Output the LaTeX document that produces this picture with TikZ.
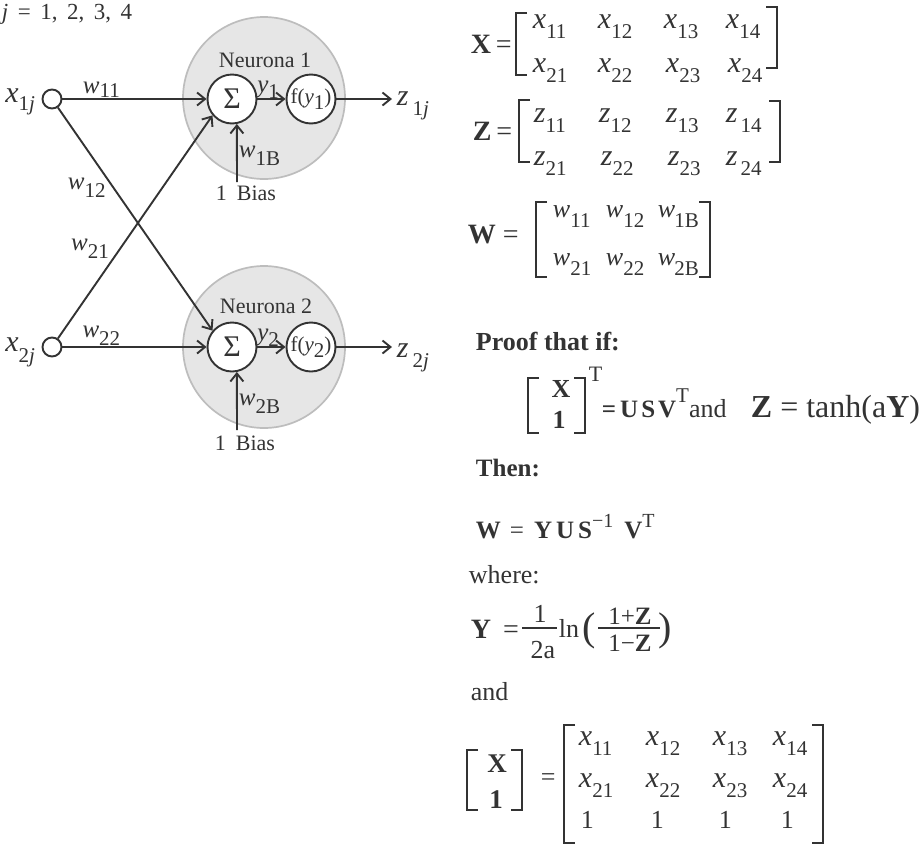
\documentclass[tikz,border=0pt]{standalone}
\usepackage{fontspec}
\setmainfont{Liberation Serif}
\usepackage{xcolor}
\usepackage{tikz}
\usetikzlibrary{arrows.meta}
\usetikzlibrary{positioning}

\definecolor{ink}{HTML}{333333}
\definecolor{cellfill}{HTML}{E6E6E6}
\definecolor{cellline}{HTML}{BDBDBD}

\newcommand\fsz[1]{\fontsize{#1}{#1}\selectfont}
% letter with a lowered index
\newcommand\vsb[3][8pt]{\textit{#2}\raisebox{-#1}{\fsz{21}#3}}
\newcommand\mx[2]{\vsb[10pt]{#1}{#2}}
% square brackets
\newcommand\lbrk[3]{\draw[brk] ({#1+11},#2) -- (#1,#2) -- (#1,#3) -- ({#1+11},#3);}
\newcommand\rbrk[3]{\draw[brk] ({#1-11},#2) -- (#1,#2) -- (#1,#3) -- ({#1-11},#3);}

\begin{document}
\begin{tikzpicture}[
  x=1pt, y=-1pt, color=ink, line width=1.9pt,
  >={Straight Barb[length=8pt,width=13pt]},
  cell/.style={circle, draw=cellline, fill=cellfill, line width=1.7pt, minimum size=162pt, inner sep=0pt},
  unit/.style={circle, draw, fill=white, minimum size=49pt, inner sep=0pt, font=\fsz{21}},
  inp/.style={circle, draw, minimum size=19pt, inner sep=0pt},
  conn/.style={->},
  lbl/.style={font=\fsz{22}, inner sep=1pt},
  wl/.style={font=\fsz{25}, inner sep=1pt},
  idx/.style={font=\fsz{30}, inner sep=0pt},
  txt/.style={anchor=base west, inner sep=0pt, font=\fsz{26}},
  ent/.style={anchor=base west, inner sep=0pt, font=\fsz{30}},
  entw/.style={anchor=base west, inner sep=0pt, font=\fsz{26}},
  brk/.style={line width=1.7pt, line join=miter},
  bar/.style={line width=1.2pt}
]
\useasboundingbox (0,0) rectangle (922,844);

% network
\node[txt, font=\fsz{23}] (jrange) at (1,19) {\spaceskip=9.5pt\relax\textit{j} = 1, 2, 3, 4};

\node[cell] (cell1) at (264,98) {};
\node[cell] (cell2) at (264,347) {};
\node[lbl] (name1) at (265,60) {Neurona 1};
\node[lbl] (name2) at (266,306) {Neurona 2};

\node[unit, font=\fsz{30}] (sum1) at (232,99) {Σ};
\node[unit] (act1) at (311,99) {f(\textit{y}\raisebox{-6pt}{1})};
\node[unit, font=\fsz{30}] (sum2) at (232,347) {Σ};
\node[unit] (act2) at (311,347) {f(\textit{y}\raisebox{-6pt}{2})};

\node[inp] (in1) at (52,99) {};
\node[inp] (in2) at (52,347) {};
\node[idx, anchor=base east] (xin1) at (36,102) {\vsb{x}{1\textit{j}}};
\node[idx, anchor=base east] (xin2) at (36,351) {\vsb[11pt]{x}{2\textit{j}}};

\coordinate (out1) at (392,99);
\coordinate (out2) at (392,347);
\node[idx, anchor=base west] (zout1) at (396,105) {\vsb[10pt]{z}{\hspace{4pt}1\textit{j}}};
\node[idx, anchor=base west] (zout2) at (396,357) {\vsb[10pt]{z}{\hspace{4pt}2\textit{j}}};

\coordinate (bias1) at (237,182);
\coordinate (bias2) at (237,430);
\node[lbl, below=2pt of bias1, xshift=9pt] (one1) {1\hspace{10pt}Bias};
\node[lbl, below=4pt of bias2, xshift=8pt] (one2) {1\hspace{10pt}Bias};

\draw[conn] (in1) -- node[wl, pos=.27, above] (lw11) {\vsb[4pt]{w}{11}} (sum1);
\draw[conn] (in1) -- node[wl, pos=.36, left=6pt] (lw12) {\vsb{w}{12}} (sum2.140);
\draw[conn] (in2) -- node[wl, pos=.40, left=9pt] (lw21) {\vsb{w}{21}} (sum1.220);
\draw[conn] (in2) -- node[wl, pos=.27, above] (lw22) {\vsb{w}{22}} (sum2);

\draw[conn] (sum1) -- node[wl, pos=.38, above, inner sep=0pt] (ly1) {\vsb[6pt]{y}{1}} (act1);
\draw[conn] (sum2) -- node[wl, pos=.38, above, inner sep=0pt] (ly2) {\vsb[6pt]{y}{2}} (act2);
\draw[conn] (act1) -- (out1);
\draw[conn] (act2) -- (out2);
\draw[conn] (bias1) -- node[wl, pos=.45, right] (lw1b) {\vsb{w}{1B}} (sum1.281);
\draw[conn] (bias2) -- node[wl, pos=.45, right] (lw2b) {\vsb{w}{2B}} (sum2.281);

% X
\node[txt, font=\fsz{28}] (xlhs) at (470,53) {\textbf{X}\,=};
\lbrk{516}{13}{75}
\rbrk{777}{7}{68}
\node[ent] (x11) at (532,28) {\mx{x}{11}};
\node[ent] (x12) at (597,28) {\mx{x}{12}};
\node[ent] (x13) at (663,28) {\mx{x}{13}};
\node[ent] (x14) at (725,28) {\mx{x}{14}};
\node[ent] (x21) at (532,72) {\mx{x}{21}};
\node[ent] (x22) at (597,72) {\mx{x}{22}};
\node[ent] (x23) at (665,72) {\mx{x}{23}};
\node[ent] (x24) at (727,72) {\mx{x}{24}};

% Z
\node[txt, font=\fsz{28}] (zlhs) at (472,140) {\textbf{Z}\,=};
\lbrk{519}{100}{162}
\rbrk{780}{101}{162}
\node[ent] (z11) at (533,122) {\mx{z}{11}};
\node[ent] (z12) at (598,122) {\mx{z}{12}};
\node[ent] (z13) at (665,122) {\mx{z}{13}};
\node[ent] (z14) at (725,122) {\mx{z}{\hspace{3pt}14}};
\node[ent] (z21) at (533,165) {\mx{z}{21}};
\node[ent] (z22) at (600,165) {\mx{z}{22}};
\node[ent] (z23) at (667,165) {\mx{z}{23}};
\node[ent] (z24) at (725,165) {\mx{z}{\hspace{3pt}24}};

% W
\node[txt, font=\fsz{28}] (wlhs) at (467,243) {\textbf{W} =};
\lbrk{536}{202}{277}
\rbrk{710}{202}{277}
\node[entw] (w11) at (552,217) {\mx{w}{11}};
\node[entw] (w12) at (605,217) {\mx{w}{12}};
\node[entw] (w1b) at (657,217) {\mx{w}{\kern-1pt 1B}};
\node[entw] (w21) at (552,265) {\mx{w}{21}};
\node[entw] (w22) at (605,265) {\mx{w}{22}};
\node[entw] (w2b) at (657,265) {\mx{w}{\kern-1pt 2B}};

% proof
\node[txt] (proof) at (475,350) {\textbf{Proof that if:}};
\lbrk{528}{378}{433}
\rbrk{585}{378}{433}
\node[txt, anchor=base] (colx) at (561,397) {\textbf{X}};
\node[txt, anchor=base] (col1) at (559,428) {\textbf{1}};
\node[txt, font=\fsz{22}] (tsup) at (588,381) {T};
\node[txt, font=\fsz{25}] (usv) at (601,417) {\textbf{=\hspace{4pt}U\hspace{3pt}S\hspace{3pt}V}\raisebox{15pt}{\fsz{21}T}{\fsz{26}and}};
\node[txt, font=\fsz{32}, anchor=base east] (tanh) at (921,417) {\textbf{Z} = tanh(a\textbf{Y})};

\node[txt, font=\fsz{25}] (then) at (475,476) {\textbf{Then:}};
\node[txt, font=\fsz{25}] (weq) at (475,538) {\textbf{W}\hspace{9pt}=\hspace{10pt}\textbf{Y\hspace{4pt}U\hspace{4pt}S}\raisebox{11pt}{\fsz{20}−1}\hspace{11pt}\textbf{V}\raisebox{11pt}{\fsz{20}T}};

\node[txt] (where) at (468,583) {where:};
\node[txt, font=\fsz{28}] (ylhs) at (470,638) {\textbf{Y}\hspace{12pt}=};
\draw[bar] (522,628) -- (557,628);
\node[txt, anchor=base] (num) at (540,622) {1};
\node[txt, anchor=base] (den) at (543,658) {2a};
\node[txt] (ln) at (558,637) {ln};
\node[txt, font=\fsz{40}] (lpar) at (582,640) {(};
\node[txt, font=\fsz{40}] (rpar) at (658,640) {)};
\draw[bar] (598,628) -- (660,628);
\node[txt, anchor=base, font=\fsz{25}] (inum) at (630,624) {1+\textbf{Z}};
\node[txt, anchor=base, font=\fsz{25}] (iden) at (630,651) {1−\textbf{Z}};

\node[txt] (and) at (470,700) {and};

% [X;1]
\lbrk{467}{750}{810}
\rbrk{522}{750}{810}
\node[txt, anchor=base, font=\fsz{27}] (fx) at (497,772) {\textbf{X}};
\node[txt, anchor=base, font=\fsz{27}] (f1) at (496,808) {\textbf{1}};
\node[txt] (feq) at (540,785) {=};
\lbrk{564}{725}{843}
\rbrk{823}{725}{843}
\node[ent] (a11) at (578,745) {\mx{x}{11}};
\node[ent] (a12) at (645,745) {\mx{x}{12}};
\node[ent] (a13) at (712,745) {\mx{x}{13}};
\node[ent] (a14) at (772,745) {\mx{x}{14}};
\node[ent] (a21) at (578,787) {\mx{x}{21}};
\node[ent] (a22) at (645,787) {\mx{x}{22}};
\node[ent] (a23) at (712,787) {\mx{x}{23}};
\node[ent] (a24) at (772,787) {\mx{x}{24}};
\node[txt] (a31) at (580,828) {1};
\node[txt] (a32) at (650,828) {1};
\node[txt] (a33) at (718,828) {1};
\node[txt] (a34) at (780,828) {1};
\end{tikzpicture}
\end{document}
